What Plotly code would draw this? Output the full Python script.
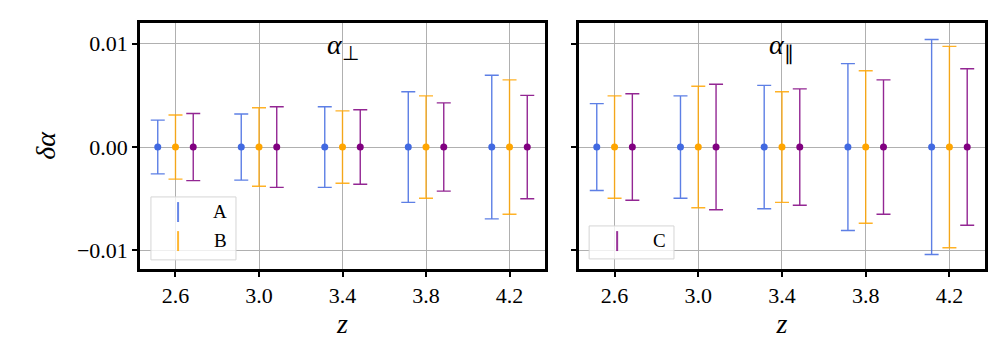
import plotly.graph_objects as go

# redshift bins and 1-sigma errors on delta alpha (all centred on zero)
z_bins = [2.6, 3.0, 3.4, 3.8, 4.2]
tick_labels_x = ["2.6", "3.0", "3.4", "3.8", "4.2"]
tick_vals_y = [-0.01, 0.0, 0.01]
tick_labels_y = ["\u22120.01", "0.00", "0.01"]

series_names = ["A", "B", "C"]
perp_A = [0.0026, 0.0032, 0.0039, 0.00535, 0.00695]
perp_B = [0.0031, 0.0038, 0.0035, 0.00495, 0.0065]
perp_C = [0.00325, 0.0039, 0.0036, 0.00427, 0.0050]
par_A = [0.0042, 0.00495, 0.00597, 0.00807, 0.0104]
par_B = [0.00495, 0.00588, 0.00535, 0.00738, 0.00974]
par_C = [0.00515, 0.00607, 0.00563, 0.0065, 0.00757]

colors = {"A": (65, 105, 225), "B": (255, 165, 0), "C": (128, 0, 128)}
shift = {"A": -0.085, "B": 0.0, "C": 0.085}
FONT = "Times New Roman, Liberation Serif, serif"


def rgba(c, a):
    return f"rgba({c[0]},{c[1]},{c[2]},{a})"


fig = go.Figure()
panels = [("x", "y", {"A": perp_A, "B": perp_B, "C": perp_C}),
          ("x2", "y2", {"A": par_A, "B": par_B, "C": par_C})]
for xa, ya, errs in panels:
    for name in series_names:
        c = colors[name]
        fig.add_trace(go.Scatter(
            x=[z + shift[name] for z in z_bins],
            y=[0.0] * len(z_bins),
            mode="markers",
            name=name,
            showlegend=False,
            marker=dict(color=rgba(c, 1), size=7),
            error_y=dict(type="data", array=errs[name], symmetric=True,
                         color=rgba(c, 0.85), thickness=1.4, width=7),
            xaxis=xa, yaxis=ya,
        ))

axis_common = dict(
    showline=True, linecolor="black", linewidth=2.5, mirror=True,
    ticks="outside", ticklen=5, tickwidth=2, tickcolor="black",
    showgrid=True, gridcolor="#b0b0b0", gridwidth=0.8, zeroline=False,
    tickfont=dict(family=FONT, size=22, color="black"),
)
xr = [2.43, 4.37]
yr = [-0.0118, 0.0120]
fig.update_layout(
    width=1008, height=360,
    margin=dict(l=132, r=31, t=15, b=99),
    plot_bgcolor="white", paper_bgcolor="white",
    showlegend=False,
    font=dict(family=FONT, color="black"),
    xaxis=dict(domain=[0, 0.4793], range=xr, tickvals=z_bins, ticktext=tick_labels_x,
               title=dict(text="<i>z</i>", font=dict(family=FONT, size=28), standoff=5), **axis_common),
    xaxis2=dict(domain=[0.5195, 1], range=xr, tickvals=z_bins, ticktext=tick_labels_x, anchor="y2",
                title=dict(text="<i>z</i>", font=dict(family=FONT, size=28), standoff=5), **axis_common),
    yaxis=dict(range=yr, tickvals=tick_vals_y, ticktext=tick_labels_y,
               title=dict(text="<i>\u03b4\u03b1</i>", font=dict(family=FONT, size=28), standoff=14),
               **axis_common),
    yaxis2=dict(range=yr, tickvals=tick_vals_y, showticklabels=False, anchor="x2", **axis_common),
)

# panel titles
for xref, yref, txt in (("x domain", "y domain", "<i>\u03b1</i><sub>\u22a5</sub>"),
                        ("x2 domain", "y2 domain", "<i>\u03b1</i><sub>\u2225</sub>")):
    fig.add_annotation(xref=xref, yref=yref, x=0.5, y=0.985, text=txt, showarrow=False, yanchor="top",
                       font=dict(family=FONT, size=28, color="black"))


# hand-built legends with vertical line handles, like matplotlib errorbar handles
def legend_box(xd, yd, x0, x1, y0, y1, items):
    fig.add_shape(type="rect", xref=xd, yref=yd, x0=x0, x1=x1, y0=y0, y1=y1,
                  line=dict(color="#d5d5d5", width=1), fillcolor="rgba(255,255,255,0.8)", layer="above")
    for name, hy0, hy1, ty in items:
        fig.add_shape(type="line", xref=xd, yref=yd, x0=0.094, x1=0.094, y0=hy0, y1=hy1,
                      line=dict(color=rgba(colors[name], 0.8), width=2), layer="above")
        fig.add_annotation(xref=xd, yref=yd, x=0.198, y=ty, text=name, showarrow=False,
                           xanchor="center", yanchor="middle",
                           font=dict(family=FONT, size=19, color="black"))


legend_box("x domain", "y domain", 0.027, 0.237, 0.037, 0.293,
           [("A", 0.191, 0.272, 0.232), ("B", 0.073, 0.154, 0.114)])
legend_box("x2 domain", "y2 domain", 0.025, 0.234, 0.041, 0.175,
           [("C", 0.073, 0.154, 0.114)])

fig.write_html("out.html")
